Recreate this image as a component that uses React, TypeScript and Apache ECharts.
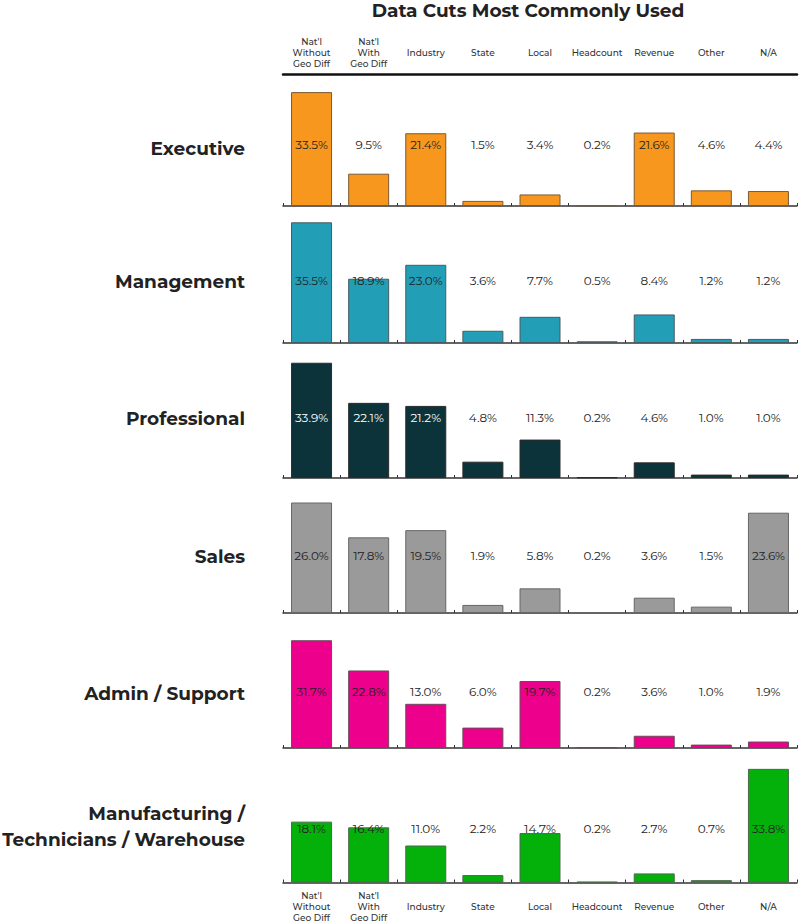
import React, { useEffect, useRef } from "react";
import * as echarts from "echarts";

const categories = [
  "Nat'l\nWithout\nGeo Diff",
  "Nat'l\nWith\nGeo Diff",
  "Industry",
  "State",
  "Local",
  "Headcount",
  "Revenue",
  "Other",
  "N/A",
];

const rowNames = [
  "Executive",
  "Management",
  "Professional",
  "Sales",
  "Admin / Support",
  "Manufacturing /\nTechnicians / Warehouse",
];

const executive = [33.5, 9.5, 21.4, 1.5, 3.4, 0.2, 21.6, 4.6, 4.4];
const management = [35.5, 18.9, 23.0, 3.6, 7.7, 0.5, 8.4, 1.2, 1.2];
const professional = [33.9, 22.1, 21.2, 4.8, 11.3, 0.2, 4.6, 1.0, 1.0];
const sales = [26.0, 17.8, 19.5, 1.9, 5.8, 0.2, 3.6, 1.5, 23.6];
const adminSupport = [31.7, 22.8, 13.0, 6.0, 19.7, 0.2, 3.6, 1.0, 1.9];
const manufacturing = [18.1, 16.4, 11.0, 2.2, 14.7, 0.2, 2.7, 0.7, 33.8];

const rowValues = [executive, management, professional, sales, adminSupport, manufacturing];
const yMaxes = [40, 40, 40, 32, 40, 40];

const colors = ["#F7971E", "#229FB6", "#0D333A", "#9A9A9A", "#EC008C", "#03B10A"];
const borderColors = ["#7a5a36", "#4a5a60", "#2a2a2a", "#666666", "#6a4a5a", "#4a6a4a"];
const insideLabelColors = ["#222222", "#222222", "#ffffff", "#222222", "#222222", "#222222"];

// layout
const baselines = [206, 343, 478, 613, 748, 884];
const labelOffsets = [62, 63, 61, 58, 57, 55];
const rowLabelCenters = [148, 281, 418, 556, 693, 826];
const gridH = 136;
const gridLeft = 283;
const gridWidth = 514;

const FONT = 'Montserrat, "Noto Sans", "Open Sans", sans-serif';

export default function App() {
  const ref = useRef<HTMLDivElement>(null);
  useEffect(() => {
    if (!ref.current) return;
    const chart = echarts.init(ref.current, undefined, { renderer: "svg" });

    const grid: any[] = [];
    const xAxis: any[] = [];
    const yAxis: any[] = [];
    const series: any[] = [];
    const graphic: any[] = [];

    rowValues.forEach((vals, i) => {
      const isLast = i === rowValues.length - 1;
      grid.push({ left: gridLeft, width: gridWidth, top: baselines[i] - gridH, height: gridH });
      xAxis.push({
        type: "category",
        gridIndex: i,
        data: categories,
        axisLine: { lineStyle: { color: "#333", width: 1.5 } },
        axisTick: { show: true, inside: true, length: 3, lineStyle: { color: "#333" } },
        axisLabel: {
          show: isLast,
          interval: 0,
          margin: 24,
          verticalAlign: "middle",
          fontSize: 9,
          lineHeight: 11,
          fontWeight: 500,
          color: "#333",
          fontFamily: FONT,
        },
      });
      yAxis.push({
        type: "value",
        gridIndex: i,
        min: 0,
        max: yMaxes[i],
        show: false,
        splitLine: { show: false },
      });
      series.push({
        type: "bar",
        xAxisIndex: i,
        yAxisIndex: i,
        data: vals,
        barWidth: 41,
        itemStyle: { color: colors[i], borderColor: borderColors[i], borderWidth: 1 },
        silent: true,
      });
      const ly = (labelOffsets[i] * yMaxes[i]) / gridH;
      series.push({
        type: "scatter",
        xAxisIndex: i,
        yAxisIndex: i,
        symbolSize: 0,
        itemStyle: { color: "transparent", opacity: 1 },
        data: vals.map((v) => ({
          value: ly,
          label: { color: v > ly ? insideLabelColors[i] : "#222222" },
        })),
        z: 5,
        label: {
          show: true,
          position: "inside",
          formatter: (p: any) => vals[p.dataIndex].toFixed(1) + "%",
          fontSize: 12,
          fontFamily: FONT,
        },
        silent: true,
      });
      const name = rowNames[i];
      const lines = name.split("\n").length;
      graphic.push({
        type: "text",
        right: 800 - 245,
        top: rowLabelCenters[i] - (lines * 26) / 2,
        style: {
          text: name,
          font: `bold 18.5px ${FONT}`,
          fill: "#222",
          textAlign: "right",
          lineHeight: 26,
        },
      });
    });

    // header axis
    const hi = rowValues.length;
    grid.push({ left: gridLeft, width: gridWidth, top: 73, height: 1 });
    xAxis.push({
      type: "category",
      gridIndex: hi,
      position: "top",
      data: categories,
      axisLine: { lineStyle: { color: "#111", width: 2.5 } },
      axisTick: { show: false },
      axisLabel: {
        interval: 0,
        margin: 21,
        verticalAlign: "middle",
        fontSize: 9,
        lineHeight: 11,
        fontWeight: 500,
        color: "#333",
        fontFamily: FONT,
      },
    });
    yAxis.push({ type: "value", gridIndex: hi, show: false, min: 0, max: 1 });

    chart.setOption({
      animation: false,
      backgroundColor: "#ffffff",
      title: {
        text: "Data Cuts Most Commonly Used",
        left: 528,
        textAlign: "center",
        top: 1,
        padding: 0,
        textStyle: { fontSize: 18.5, fontWeight: "bold", color: "#222", fontFamily: FONT },
      },
      grid,
      xAxis,
      yAxis,
      series,
      graphic,
    });
    return () => chart.dispose();
  }, []);
  return (
    <div
      ref={ref}
      style={{ position: "absolute", left: 0, top: 0, width: 800, height: 923 }}
    />
  );
}
